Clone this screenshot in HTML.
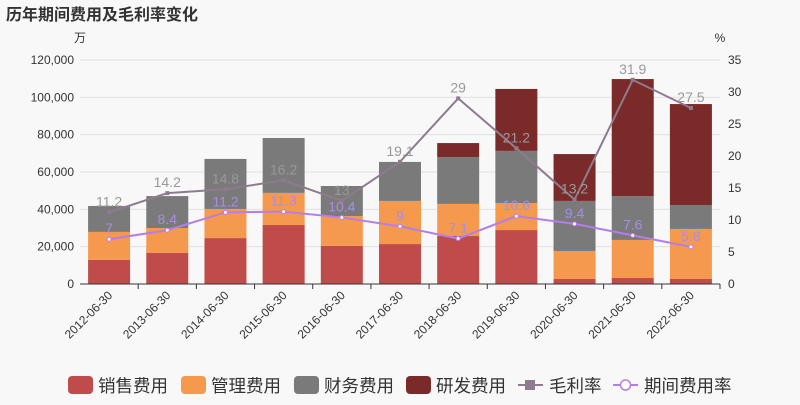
<!DOCTYPE html>
<html><head><meta charset="utf-8"><style>
body{margin:0;background:#f8f8f8;}
svg{font-family:"Liberation Sans","Noto Sans CJK SC",sans-serif;}
</style></head><body>
<svg id="c" width="800" height="400">
<rect width="800" height="400" fill="#f8f8f8"/>
<text x="6" y="20" font-size="16" font-weight="bold" fill="#333">历年期间费用及毛利率变化</text>
<text x="80" y="42" font-size="12" fill="#333" text-anchor="middle">万</text>
<text x="720" y="42" font-size="12" fill="#333" text-anchor="middle">%</text>
<g id="grid"></g><g id="bars"></g><g id="lines"></g><g id="axes"></g><g id="legend"></g>
</svg>
<script>
const categories=["2012-06-30","2013-06-30","2014-06-30","2015-06-30","2016-06-30","2017-06-30","2018-06-30","2019-06-30","2020-06-30","2021-06-30","2022-06-30"];
const sales=[12900,16600,24600,31600,20400,21400,25700,28900,2700,3200,2700];
const mgmt=[15000,13400,15600,17200,16000,23100,17200,14500,15000,20400,26800];
const fin=[13900,17100,26800,29400,16100,20900,25100,27900,26800,23500,12800];
const rd=[0,0,0,0,0,0,7500,33200,25100,62700,54100];
const margin=[11.2,14.2,14.8,16.2,13,19.1,29,21.2,13.2,31.9,27.5];
const rate=[7,8.4,11.2,11.3,10.4,9,7.1,10.6,9.4,7.6,5.8];
const leftTicks=[0,20000,40000,60000,80000,100000,120000];
const rightTicks=[0,5,10,15,20,25,30,35];
const X0=80,X1=720,Y0=284,Y1=60;
const NS="http://www.w3.org/2000/svg";
const step=(X1-X0)/categories.length;
const xc=i=>X0+step*(i+0.5);
const yl=v=>Y0-(v/120000)*(Y0-Y1);
const yr=v=>Y0-(v/35)*(Y0-Y1);
function mk(t,a,p,txt){const e=document.createElementNS(NS,t);for(const k in a)e.setAttribute(k,a[k]);if(txt!==undefined)e.textContent=txt;p.appendChild(e);return e;}
const G=id=>document.getElementById(id);
leftTicks.forEach((v,i)=>{
 if(v>0){const l=mk('line',{x1:X0,x2:X1,y1:yl(v),y2:yl(v),stroke:'#e0e0e0'},G('grid'));
 
 }
 const t=mk('text',{x:X0-6,y:yl(v)+4,'font-size':12,fill:'#333','text-anchor':'end'},G('axes'),v.toLocaleString('en-US'));
 
 
});
rightTicks.forEach(v=>{
 const t=mk('text',{x:X1+8,y:yr(v)+4,'font-size':12,fill:'#333'},G('axes'),String(v));
 
 
});
mk('line',{x1:X0,x2:X1,y1:Y0,y2:Y0,stroke:'#333'},G('axes'));
const series=[[sales,'#c04b4b','sales'],[mgmt,'#f5994e','mgmt'],[fin,'#7a7a7a','finance'],[rd,'#7b2a2a','rd']];
categories.forEach((c,i)=>{
 let acc=0;
 series.forEach(([arr,col,n])=>{
  const v=arr[i];if(!v)return;
  const r=mk('rect',{x:xc(i)-21,width:42,y:yl(acc+v),height:yl(acc)-yl(acc+v),fill:col},G('bars'));
  
  
  acc+=v;
 });
 mk('line',{x1:X0+step*(i+1),x2:X0+step*(i+1),y1:Y0,y2:Y0+5,stroke:'#333'},G('axes'));
 const t=mk('text',{x:xc(i)+4,y:Y0+12,'font-size':12,fill:'#333','text-anchor':'end',transform:`rotate(-45 ${xc(i)+4} ${Y0+12})`},G('axes'),c);
 
 
});
function line(arr,col,n,circle,lblCol){
 const pts=arr.map((v,i)=>xc(i)+','+yr(v)).join(' ');
 const p=mk('polyline',{points:pts,fill:'none',stroke:col,'stroke-width':2},G('lines'));
 
 
 arr.forEach((v,i)=>{
  const m=circle?mk('circle',{cx:xc(i),cy:yr(v),r:2,fill:'#fff',stroke:col},G('lines')):mk('rect',{x:xc(i)-2,y:yr(v)-2,width:4,height:4,fill:col},G('lines'));
  
  
  const t=mk('text',{x:xc(i),y:yr(v)-6,'font-size':14,fill:lblCol,'text-anchor':'middle'},G('lines'),String(v));
  
  
 });
}
line(margin,'#8e7b8e','margin',false,'#999');
line(rate,'#b47ee8','rate',true,'#a98ce6');
const leg=[['销售费用','#c04b4b',68],['管理费用','#f5994e',181],['财务费用','#7a7a7a',294],['研发费用','#7b2a2a',406]];
leg.forEach(([t,col,x])=>{
 const g=mk('g',{},G('legend'));
 
 
 mk('rect',{x:x,y:376,width:25,height:18,rx:4,fill:col},g);
 mk('text',{x:x+30,y:392,'font-size':17.5,fill:'#333'},g,t);
});
let g=mk('g',{},G('legend'));


mk('line',{x1:518,x2:543,y1:385,y2:385,stroke:'#8e7b8e','stroke-width':2},g);
mk('rect',{x:525,y:380,width:10,height:10,fill:'#8e7b8e'},g);
mk('text',{x:549,y:392,'font-size':17.5,fill:'#333'},g,'毛利率');
g=mk('g',{},G('legend'));


mk('line',{x1:613,x2:638,y1:385,y2:385,stroke:'#b47ee8','stroke-width':2},g);
mk('circle',{cx:625.5,cy:385,r:5,fill:'#fff',stroke:'#b47ee8','stroke-width':1.5},g);
mk('text',{x:644,y:392,'font-size':17.5,fill:'#333'},g,'期间费用率');
</script>
</body></html>
